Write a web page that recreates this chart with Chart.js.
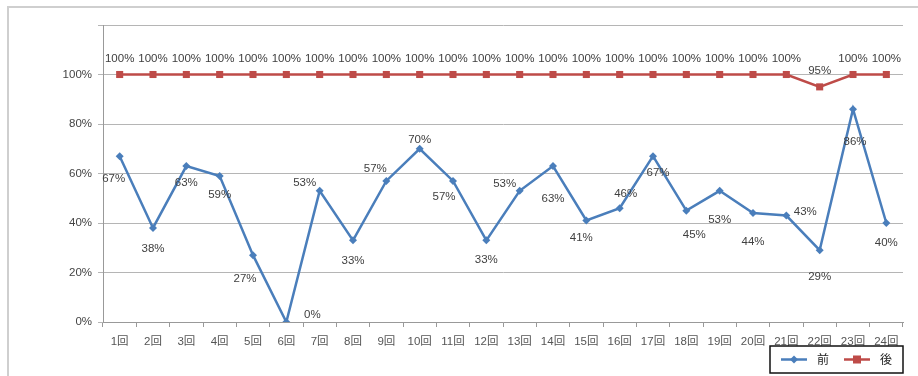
<!DOCTYPE html>
<html><head><meta charset="utf-8">
<script src="https://cdn.jsdelivr.net/npm/chart.js@4/dist/chart.umd.min.js"></script>
<style>html,body{margin:0;padding:0;background:#fff}#wrap{width:918px;height:376px}</style>
</head><body><div id="wrap"><canvas id="c" width="918" height="376"></canvas></div>
<script>
const categories = ['1回','2回','3回','4回','5回','6回','7回','8回','9回','10回','11回','12回','13回','14回','15回','16回','17回','18回','19回','20回','21回','22回','23回','24回'];
const maeValues = [67,38,63,59,27,0,53,33,57,70,57,33,53,63,41,46,67,45,53,44,43,29,86,40];
const atoValues = [100,100,100,100,100,100,100,100,100,100,100,100,100,100,100,100,100,100,100,100,100,95,100,100];
const seriesNames = ['前','後'];
const yTicks = [0,20,40,60,80,100,120];

// label placement offsets (dx, dy) for series 前
const maeLabelOffsets = [[-6,23],[0,21],[0,17],[0,19],[-8,24],[26,-7],[-15,-8],[0,21],[-11,-12],[0,-9],[-9,16],[0,20],[-15,-7],[0,33],[-5,17],[6,-14],[5,17],[8,24],[0,29],[0,29],[19,-4],[0,27],[2,33],[0,20]];

const FONT = '"Liberation Sans", "Noto Sans CJK JP", sans-serif';
const BLUE = '#4a7ebb';
const RED = '#be4b48';

const extras = {
  id: 'extras',
  beforeDraw(chart) {
    const ctx = chart.ctx;
    ctx.save();
    ctx.strokeStyle = '#cfcfcf';
    ctx.lineWidth = 2;
    ctx.strokeRect(8, 7, 920, 380);
    ctx.restore();
  },
  afterDatasetsDraw(chart) {
    const ctx = chart.ctx;
    ctx.save();
    ctx.font = '11.5px ' + FONT;
    ctx.fillStyle = '#404040';
    ctx.textAlign = 'center';
    ctx.textBaseline = 'middle';
    chart.getDatasetMeta(1).data.forEach((p, i) => {
      ctx.fillText(atoValues[i] + '%', p.x, p.y - 16);
    });
    chart.getDatasetMeta(0).data.forEach((p, i) => {
      const o = maeLabelOffsets[i];
      ctx.fillText(maeValues[i] + '%', p.x + o[0], p.y + o[1]);
    });
    // legend
    const lx = 770, ly = 346, lw = 133, lh = 27;
    ctx.fillStyle = '#fff';
    ctx.fillRect(lx, ly, lw, lh);
    ctx.strokeStyle = '#111';
    ctx.lineWidth = 1.5;
    ctx.strokeRect(lx, ly, lw, lh);
    const cy = ly + lh / 2;
    ctx.strokeStyle = BLUE; ctx.lineWidth = 2.5;
    ctx.beginPath(); ctx.moveTo(781, cy); ctx.lineTo(807, cy); ctx.stroke();
    ctx.fillStyle = BLUE;
    ctx.beginPath(); ctx.moveTo(794, cy - 4); ctx.lineTo(798, cy); ctx.lineTo(794, cy + 4); ctx.lineTo(790, cy); ctx.closePath(); ctx.fill();
    ctx.fillStyle = '#222';
    ctx.font = '12px "Noto Sans CJK JP", sans-serif';
    ctx.fillText(seriesNames[0], 823, cy);
    ctx.strokeStyle = RED; ctx.lineWidth = 2.5;
    ctx.beginPath(); ctx.moveTo(844, cy); ctx.lineTo(870, cy); ctx.stroke();
    ctx.fillStyle = RED;
    ctx.fillRect(853, cy - 4, 8, 8);
    ctx.fillStyle = '#222';
    ctx.fillText(seriesNames[1], 886, cy);
    ctx.restore();
  }
};

new Chart(document.getElementById('c'), {
  type: 'line',
  data: {
    labels: categories,
    datasets: [
      { label: seriesNames[0], data: maeValues, borderColor: BLUE, backgroundColor: BLUE, borderWidth: 2.5,
        pointStyle: 'rectRot', pointRadius: 4, pointBorderWidth: 0, tension: 0 },
      { label: seriesNames[1], data: atoValues, borderColor: RED, backgroundColor: RED, borderWidth: 2.5,
        pointStyle: 'rect', pointRadius: 5, pointBorderWidth: 0, tension: 0 }
    ]
  },
  options: {
    responsive: false,
    animation: false,
    layout: { padding: { left: 0, right: 15, top: 25, bottom: 0 } },
    plugins: { legend: { display: false }, tooltip: { enabled: false } },
    scales: {
      x: {
        offset: true,
        afterFit(s) { s.height = 54; },
        grid: { offset: true, drawOnChartArea: false, drawTicks: true, tickLength: 5, color: '#999' },
        border: { color: '#999', width: 1 },
        ticks: { color: '#555', font: { size: 11.5, family: FONT }, padding: 8, maxRotation: 0, autoSkip: false }
      },
      y: {
        min: 0, max: 120,
        afterFit(s) { s.width = 103; },
        afterBuildTicks(s) { s.ticks = yTicks.map(v => ({ value: v })); },
        grid: { color: '#b5b5b5', tickLength: 5, lineWidth: 1 },
        border: { color: '#999', width: 1 },
        ticks: { color: '#444', font: { size: 11.5, family: FONT }, padding: 6,
          callback: v => v === 120 ? '' : v + '%' }
      }
    }
  },
  plugins: [extras]
});
</script></body></html>
